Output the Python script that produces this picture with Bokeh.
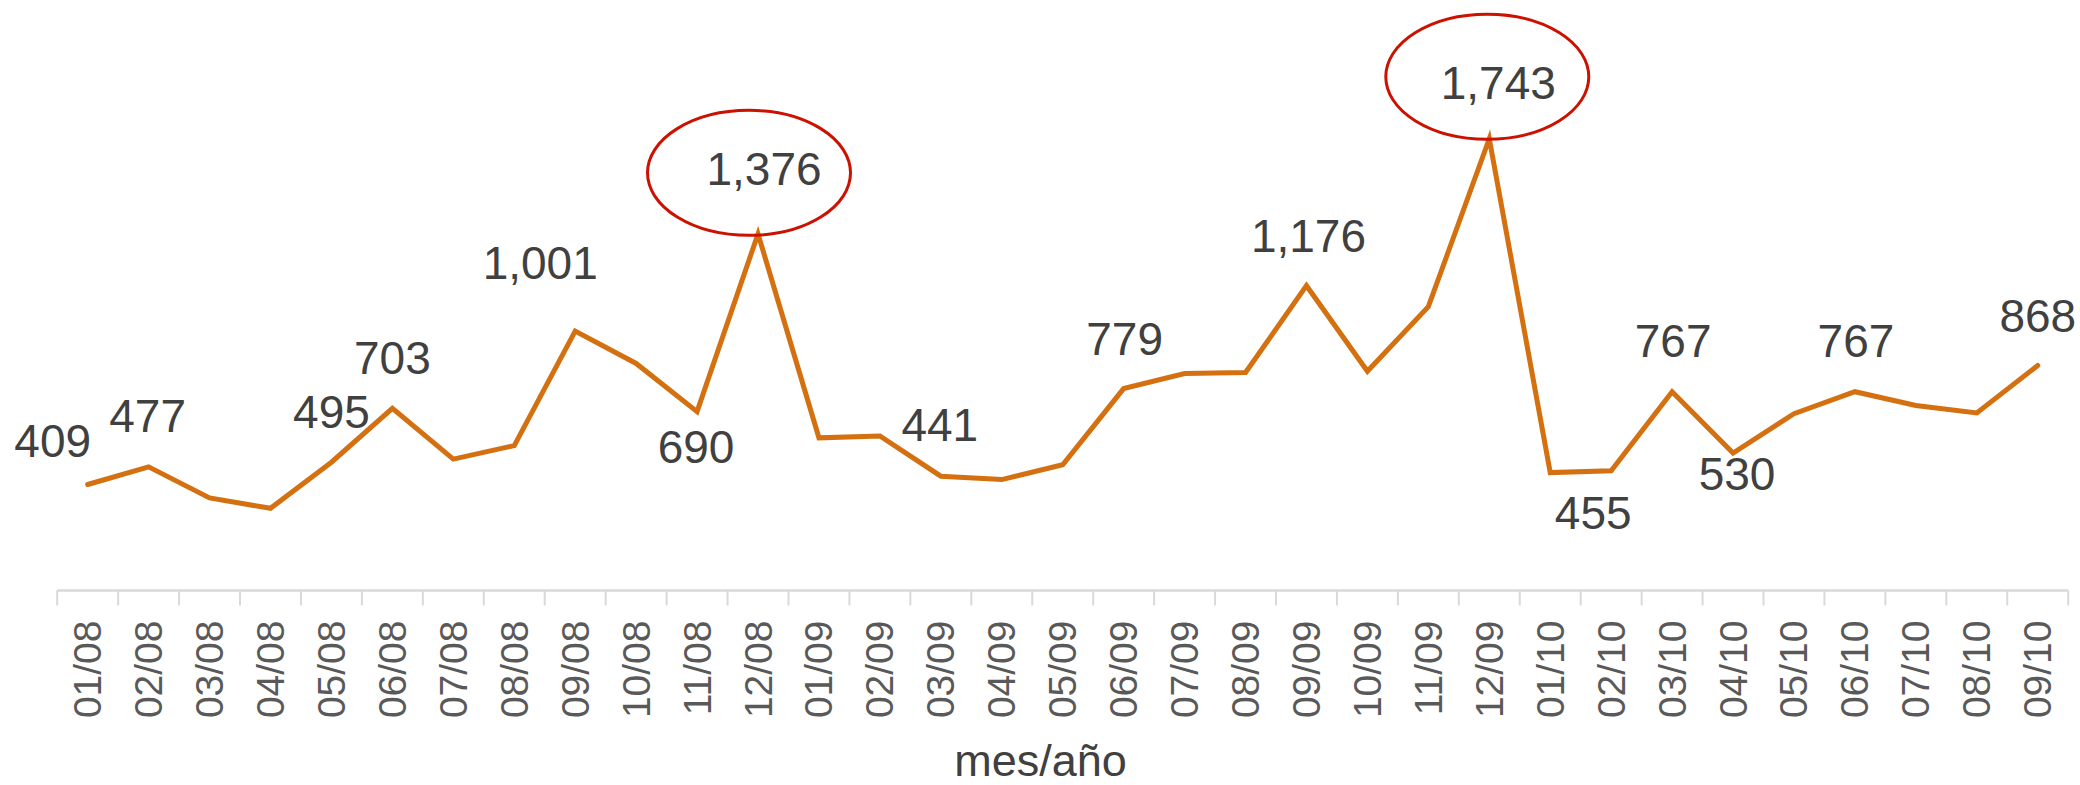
import math
from bokeh.plotting import figure
from bokeh.models import Range1d, FixedTicker
from bokeh.core.properties import value
from bokeh.models import ColumnDataSource
from bokeh.embed import file_html
from bokeh.resources import INLINE

# ---------------- data ----------------
months = ["01/08", "02/08", "03/08", "04/08", "05/08", "06/08", "07/08", "08/08",
          "09/08", "10/08", "11/08", "12/08", "01/09", "02/09", "03/09", "04/09",
          "05/09", "06/09", "07/09", "08/09", "09/09", "10/09", "11/09", "12/09",
          "01/10", "02/10", "03/10", "04/10", "05/10", "06/10", "07/10", "08/10",
          "09/10"]
values = [409, 477, 357, 317, 495, 703, 507, 559, 1001, 876, 690, 1376,
          589, 596, 441, 428, 485, 779, 837, 841, 1176, 846, 1095, 1743,
          455, 462, 767, 530, 682, 767, 714, 685, 868]
labelled = [0, 1, 4, 5, 8, 10, 11, 14, 17, 20, 23, 24, 26, 27, 29, 32]
highlighted = [11, 23]
x_title = "mes/año"

# ---------------- layout / style ----------------
label_dx = [-35, -1, 0, 0, -35, -1, 6, -1, 1, 2, 9, 43, 1, 4, 1, 0]
label_dy = [-43, -51, -50, -50, -68, 35, -65, -51, -50, -50, -56, 40, -51, 21, -51, -50]
ell_dx = [-9, -2]
ell_dy = [-61, -62]

FRAME_W, FRAME_H = 2080, 606
BOTTOM = 179
CAT_PX = 60.94            # width of one category in pixels
FIRST_BOUND_PX = 56.7     # first category boundary, px from frame left
ZERO_PX = 590             # value 0, px from frame top
PX_PER_UNIT = 0.2592

x_start = -FIRST_BOUND_PX / CAT_PX
x_end = x_start + FRAME_W / CAT_PX
y_end = ZERO_PX / PX_PER_UNIT
y_start = -(FRAME_H - ZERO_PX) / PX_PER_UNIT

FONT = "Liberation Sans"
LINE_COLOR = "#D4700F"
TEXT_COLOR = "#404040"
AXIS_COLOR = "#D9D9D9"

n = len(values)
xs = [i + 0.5 for i in range(n)]

p = figure(frame_width=FRAME_W, frame_height=FRAME_H, output_backend="svg",
           toolbar_location=None,
           x_range=Range1d(x_start, x_end), y_range=Range1d(y_start, y_end),
           min_border_left=0, min_border_right=0, min_border_top=0,
           min_border_bottom=BOTTOM)
p.outline_line_color = None
p.xgrid.visible = False
p.ygrid.visible = False
p.yaxis.visible = False
p.background_fill_color = "white"
p.border_fill_color = "white"

# x axis: month labels + title
ax = p.xaxis[0]
ax.ticker = FixedTicker(ticks=xs)
ax.major_label_overrides = {x: m for x, m in zip(xs, months)}
ax.axis_line_color = None
ax.major_tick_line_color = None
ax.minor_tick_line_color = None
ax.major_tick_out = 0
ax.major_tick_in = 0
ax.major_label_orientation = math.pi / 2
ax.major_label_standoff = 14
ax.major_label_text_font = FONT
ax.major_label_text_font_size = "39px"
ax.major_label_text_color = "#595959"
ax.axis_label = x_title
ax.axis_label_text_font = FONT
ax.axis_label_text_font_size = "45px"
ax.axis_label_text_font_style = "normal"
ax.axis_label_text_color = TEXT_COLOR
ax.axis_label_standoff = 14

# axis baseline + category boundary ticks
bounds = list(range(n + 1))
p.line([bounds[0], bounds[-1]], [0, 0], line_color=AXIS_COLOR, line_width=2.5)
tick_len = 15 / PX_PER_UNIT
p.segment(x0=bounds, y0=[0] * len(bounds), x1=bounds, y1=[-tick_len] * len(bounds),
          line_color=AXIS_COLOR, line_width=2)

# series line
p.line(xs, values, line_color=LINE_COLOR, line_width=5,
       line_join="miter", line_cap="round")

# highlight ellipses
ex = [xs[i] + d / CAT_PX for i, d in zip(highlighted, ell_dx)]
ey = [values[i] - d / PX_PER_UNIT for i, d in zip(highlighted, ell_dy)]
p.ellipse(x=ex, y=ey, width=203, height=125, width_units="screen", height_units="screen",
          fill_color=None, line_color="#CC1100", line_width=3)

# data labels
src = ColumnDataSource(dict(
    x=[xs[i] for i in labelled],
    y=[values[i] for i in labelled],
    t=[f"{values[i]:,}" for i in labelled],
    dx=label_dx, dy=label_dy))
p.text(x="x", y="y", text="t", x_offset="dx", y_offset="dy", source=src,
       text_font=value(FONT), text_font_size="46px", text_color=TEXT_COLOR,
       text_align="center", text_baseline="middle")

open("out.html", "w").write(file_html(p, INLINE))
